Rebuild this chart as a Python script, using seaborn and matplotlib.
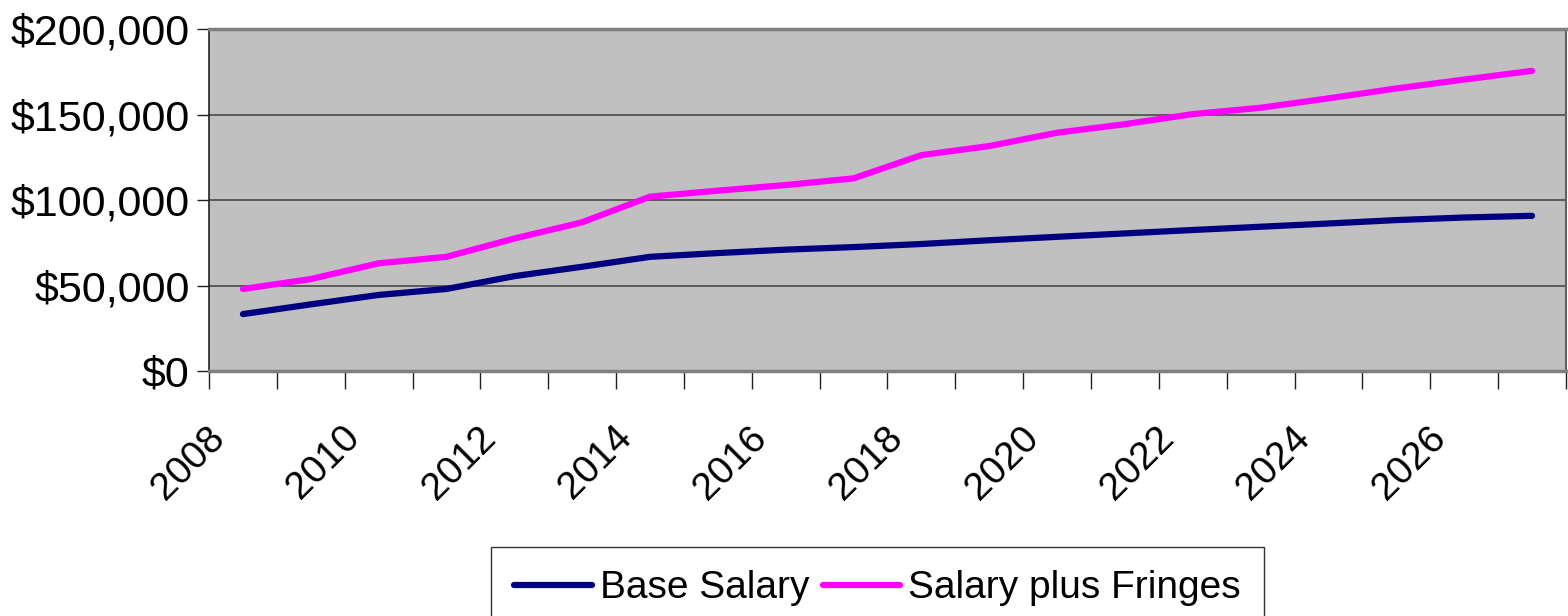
import matplotlib
matplotlib.use("Agg")
import matplotlib.pyplot as plt
import matplotlib.transforms as mtransforms
import numpy as np
import pandas as pd
import seaborn as sns
from matplotlib.lines import Line2D
from matplotlib.ticker import FuncFormatter

# data
years = list(range(2008, 2028))
base_salary = [33300, 39000, 44500, 48000, 55500, 61000, 66800, 69000, 71000, 72500,
               74300, 76500, 78500, 80500, 82500, 84400, 86300, 88300, 89800, 90800]
salary_plus_fringes = [48000, 53800, 63000, 66800, 77500, 87000, 102000, 105500, 108800, 112700,
                       126300, 131600, 139400, 144400, 150300, 154000, 159500, 165300, 170500, 175600]
series_names = ["Base Salary", "Salary plus Fringes"]
colors = {"Base Salary": "#000080", "Salary plus Fringes": "#FF00FF"}

df = pd.DataFrame({
    "year": years * 2,
    "value": base_salary + salary_plus_fringes,
    "series": [series_names[0]] * len(years) + [series_names[1]] * len(years),
})

sns.set_style("white")
plt.rcParams["font.family"] = ["Liberation Sans", "DejaVu Sans"]
plt.rcParams["text.color"] = "black"
plt.rcParams["xtick.color"] = "black"
plt.rcParams["ytick.color"] = "black"

fig = plt.figure(figsize=(15.68, 6.16), dpi=100)
ax = fig.add_axes([0.1333, 0.3977, 0.8654, 0.555])
ax.set_facecolor("#C0C0C0")

sns.lineplot(data=df, x="year", y="value", hue="series", palette=colors,
             linewidth=4.5, solid_capstyle="round", ax=ax, legend=False, zorder=3)

ax.set_xlim(2007.5, 2027.5)
ax.set_ylim(0, 200000)
ax.set_xlabel("")
ax.set_ylabel("")

# y axis
ax.set_yticks(np.arange(0, 200001, 50000))
ax.yaxis.set_major_formatter(FuncFormatter(lambda v, p: "${:,.0f}".format(v)))
ax.yaxis.grid(True, color="#404040", linewidth=1.1, zorder=1)
ax.tick_params(axis="y", direction="out", length=9, width=1, color="#202020",
               labelsize=31, labelcolor="black", pad=5, left=True)

# x axis: ticks between categories, labels every other year
ax.set_xticks(years[::2])
ax.set_xticklabels([str(y) for y in years[::2]], rotation=45, ha="right",
                   va="center", rotation_mode="anchor")
ax.set_xticks(np.arange(2007.5, 2028, 1), minor=True)
ax.tick_params(axis="x", which="major", length=0, labelsize=28, labelcolor="black", pad=44)
ax.tick_params(axis="x", which="minor", direction="out", length=13, width=1,
               color="#202020", bottom=True)
shift = mtransforms.ScaledTranslation(-0.24, 0, fig.dpi_scale_trans)
for lab in ax.get_xticklabels():
    lab.set_transform(lab.get_transform() + shift)

ax.spines["left"].set_color("#202020")
ax.spines["left"].set_linewidth(1.2)
ax.spines["bottom"].set_color("#808080")
ax.spines["bottom"].set_linewidth(2.5)
ax.spines["top"].set_color("#808080")
ax.spines["top"].set_linewidth(2.5)
ax.spines["right"].set_color("#606060")
ax.spines["right"].set_linewidth(1.5)

handles = [Line2D([0], [0], color=colors[n], linewidth=4.5, solid_capstyle="round")
           for n in series_names]
leg = fig.legend(handles, series_names, loc="upper center", bbox_to_anchor=(0.5596, 0.112),
                 ncol=2, fontsize=28, frameon=True, fancybox=False, edgecolor="black",
                 handlelength=2.0, handletextpad=0.2, columnspacing=0.35,
                 borderpad=0.6, borderaxespad=0)
leg.get_frame().set_linewidth(1.0)

fig.savefig("out.png", dpi=100, facecolor="white")
